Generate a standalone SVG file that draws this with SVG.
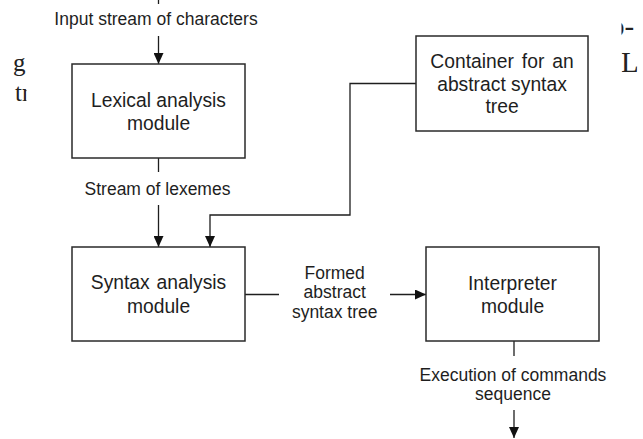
<svg xmlns="http://www.w3.org/2000/svg" width="643" height="439" viewBox="0 0 643 439">
<style>
.box{fill:#fff;stroke:#2a2a2a;stroke-width:1.5}
.bt{font-family:"Liberation Sans",Arial,sans-serif;font-size:19.3px;fill:#1e1e1e;text-anchor:middle}
.lt{font-family:"Liberation Sans",Arial,sans-serif;font-size:17.5px;fill:#1e1e1e;text-anchor:middle}
.ln{fill:none;stroke:#1e1e1e;stroke-width:1.3}
.st{font-family:"Liberation Serif","Times New Roman",serif;font-size:25px;fill:#222}
.sr{font-family:"Liberation Serif","Times New Roman",serif;font-size:29px;fill:#222}
</style>
<defs>
<marker id="ah" markerUnits="userSpaceOnUse" markerWidth="12" markerHeight="10" refX="11" refY="5" orient="auto">
<path d="M0,0 L11,5 L0,10 Z" fill="#111"/>
</marker>
<clipPath id="cl"><rect x="0" y="0" width="26.5" height="439"/></clipPath>
<clipPath id="cr"><rect x="621.5" y="0" width="16" height="439"/></clipPath>
</defs>
<rect width="643" height="439" fill="#fff"/>
<g id="stray">
<g clip-path="url(#cl)">
<text class="st" x="13" y="71">g</text>
<text class="st" x="15" y="101">tr</text>
</g>
<g clip-path="url(#cr)">
<text class="sr" x="610" y="36">o-</text>
<text class="sr" x="621" y="71.5">L</text>
</g>
</g>
<g id="connectors">
<path class="ln" d="M158.5,0 V4"/>
<path class="ln" d="M158.5,36 V64" marker-end="url(#ah)"/>
<path class="ln" d="M158.5,158 V172"/>
<path class="ln" d="M158.5,205 V247" marker-end="url(#ah)"/>
<path class="ln" d="M416,83.5 H350 V215 H210 V247" marker-end="url(#ah)"/>
<path class="ln" d="M245,294.5 H279"/>
<path class="ln" d="M390,294.5 H426" marker-end="url(#ah)"/>
<path class="ln" d="M514,341 V356"/>
<path class="ln" d="M514,410 V438" marker-end="url(#ah)"/>
<text class="lt" x="156" y="25">Input stream of characters</text>
<text class="lt" x="157.5" y="195">Stream of lexemes</text>
<text class="lt" x="334.7" y="279">Formed</text>
<text class="lt" x="334.7" y="298.3">abstract</text>
<text class="lt" x="334.7" y="318">syntax tree</text>
<text class="lt" x="513" y="381">Execution of commands</text>
<text class="lt" x="513" y="400">sequence</text>
</g>
<g id="lexical">
<rect class="box" x="72" y="64" width="173" height="94"/>
<text class="bt" x="158.5" y="107">Lexical analysis</text>
<text class="bt" x="158.5" y="130">module</text>
</g>
<g id="container">
<rect class="box" x="416" y="36" width="172" height="95"/>
<text class="bt" x="502" y="67.7" word-spacing="2.5">Container for an</text>
<text class="bt" x="502" y="91">abstract syntax</text>
<text class="bt" x="502" y="113">tree</text>
</g>
<g id="syntax">
<rect class="box" x="72" y="247" width="173" height="94"/>
<text class="bt" x="158.5" y="289" word-spacing="1.5">Syntax analysis</text>
<text class="bt" x="158.5" y="312.7">module</text>
</g>
<g id="interpreter">
<rect class="box" x="426" y="247" width="173" height="94"/>
<text class="bt" x="512.5" y="290">Interpreter</text>
<text class="bt" x="512.5" y="313">module</text>
</g>
</svg>
